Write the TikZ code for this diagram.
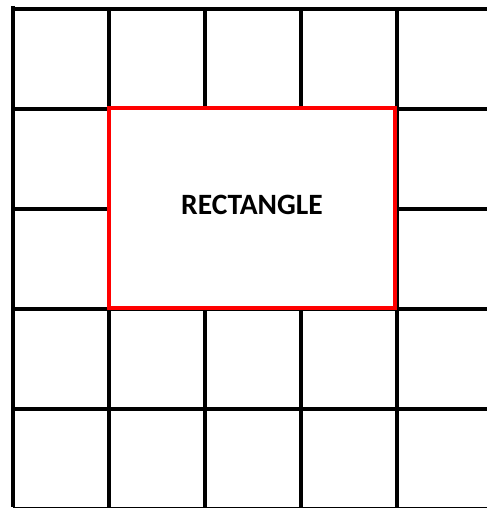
\documentclass[tikz,border=0pt]{standalone}
\usepackage{fontspec}
\setmainfont{Carlito}
\begin{document}
\begin{tikzpicture}[x=1pt,y=-1pt,
  gridline/.style={line width=4pt,black},
  redbox/.style={draw=red,fill=white,line width=3.5pt,minimum width=286pt,minimum height=200pt,inner sep=0pt},
  boxtext/.style={font=\bfseries\fontsize{29.5}{35}\selectfont,inner sep=0pt}]
\useasboundingbox (0,0) rectangle (487,508);
\fill[white] (0,0) rectangle (487,508);
\draw[gridline] (13,6) -- (13,507);
\foreach \x in {109,205,301,397} \draw[gridline] (\x,9) -- (\x,507);
\foreach \y in {9,109,209,309,409} \draw[gridline] (13,\y) -- (487,\y);
\draw[line width=1pt] (13,507) -- (487,507);
\node[redbox] (rect) at (252,208) {};
\node[boxtext] (label) at (252,205) {RECTANGLE};
\end{tikzpicture}
\end{document}
